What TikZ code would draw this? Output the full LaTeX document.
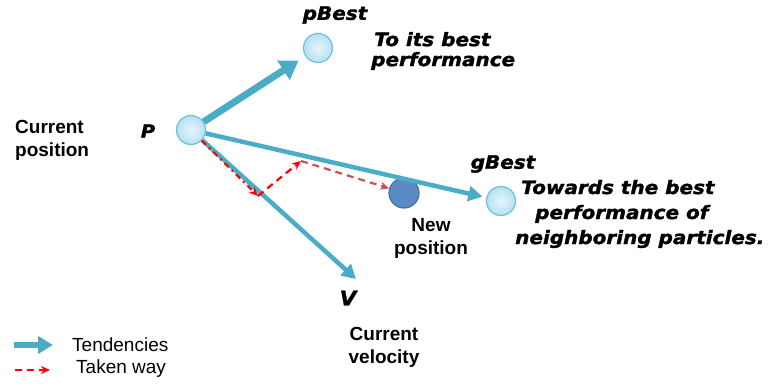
\documentclass[tikz,border=0pt]{standalone}
\usepackage{fontspec}
\setmainfont{Liberation Sans}
\newfontfamily\blk[FakeStretch=1.08,FakeBold=1.5]{DejaVu Sans}
\usetikzlibrary{arrows.meta}
\definecolor{teal1}{HTML}{4BACC6}
\definecolor{cin}{HTML}{E6F6FC}
\definecolor{cout}{HTML}{B5E0F1}
\definecolor{cdraw}{HTML}{6CC3D9}
\definecolor{nfill}{HTML}{5B8BC4}
\definecolor{ndraw}{HTML}{41719C}
\definecolor{red2}{HTML}{D05050}
\tikzset{
  particle/.style={circle,minimum size=29pt,inner sep=0pt,draw=cdraw,line width=1.2pt,
    inner color=cin,outer color=cout},
  newpart/.style={circle,minimum size=30pt,inner sep=0pt,draw=ndraw,line width=1.2pt,fill=nfill},
  bigtend/.style={teal1,line width=7pt,-{Triangle[length=18pt,width=22pt]}},
  tend/.style={teal1,line width=4.5pt,-{Triangle[length=14pt,width=15pt]}},
  taken/.style={red,line width=2.2pt,dash pattern=on 7pt off 5pt,-{Stealth[length=9pt,width=8pt]}},
  takendd/.style={red,line width=2.2pt,dash pattern=on 6pt off 4pt on 2pt off 4pt,-{Stealth[length=9pt,width=8pt]}},
  bi/.style={font=\blk\bfseries\itshape\fontsize{18.5}{20}\selectfont,align=center,inner sep=0pt},
  lbl/.style={font=\bfseries\fontsize{19}{23}\selectfont,align=left,inner sep=0pt},
  leg/.style={font=\fontsize{19}{23}\selectfont,anchor=west,inner sep=0pt}
}
\begin{document}
\begin{tikzpicture}[x=1pt,y=-1pt]
\useasboundingbox (0,0) rectangle (769,387);
% particles
\node[particle] (P) at (191,130) {};
\node[particle] (pB) at (318,48) {};
\node[particle] (gB) at (501,201) {};
\node[newpart] (N) at (404,193) {};
\coordinate (V) at (356,279);
\coordinate (a) at (258,196);
\coordinate (b) at (301,161);
% tendencies
\draw[bigtend,shorten >=8pt] (P) -- (pB);
\draw[tend,shorten >=4pt] (P) -- (gB);
\draw[tend] (P) -- (V);
% taken way
\draw[takendd] (P) -- (a);
\draw[taken] (a) -- (b);
\draw[taken,red2] (b) -- (N);
% labels
\node[bi] (tpB) at (335,15) {pBest};
\node[bi,align=left,anchor=west] (tpBd) at (371,51) {\hspace*{3pt}To its best\\performance};
\node[bi] (tgB) at (503,164) {gBest};
\node[bi,align=left,anchor=west,font=\blk\bfseries\itshape\fontsize{18.5}{25}\selectfont] (tgBd) at (515,214) {\hspace*{6pt}Towards the best\\\hspace*{20pt}performance of\\neighboring particles.};
\node[bi,font=\blk\bfseries\itshape\fontsize{18}{20}\selectfont] (tP) at (148,131) {P};
\node[bi,font=\blk\bfseries\itshape\fontsize{20}{22}\selectfont] (tV) at (348,298) {V};
\node[lbl,anchor=west] (tcp) at (15,140) {Current\\position};
\node[lbl,align=center] (tnp) at (431,238) {New\\position};
\node[lbl,align=center] (tcv) at (384,347) {Current\\velocity};
% legend
\coordinate (l1a) at (14,345);
\coordinate (l1b) at (53,345);
\draw[tend,line width=5.5pt,-{Triangle[length=15pt,width=17pt]}] (l1a) -- (l1b);
\node[leg] (lt) at (72,345) {Tendencies};
\coordinate (l2a) at (15,370);
\coordinate (l2b) at (50,370);
\draw[taken] (l2a) -- (l2b);
\node[leg] (lw) at (76,369) {Taken way};
\end{tikzpicture}
\end{document}
